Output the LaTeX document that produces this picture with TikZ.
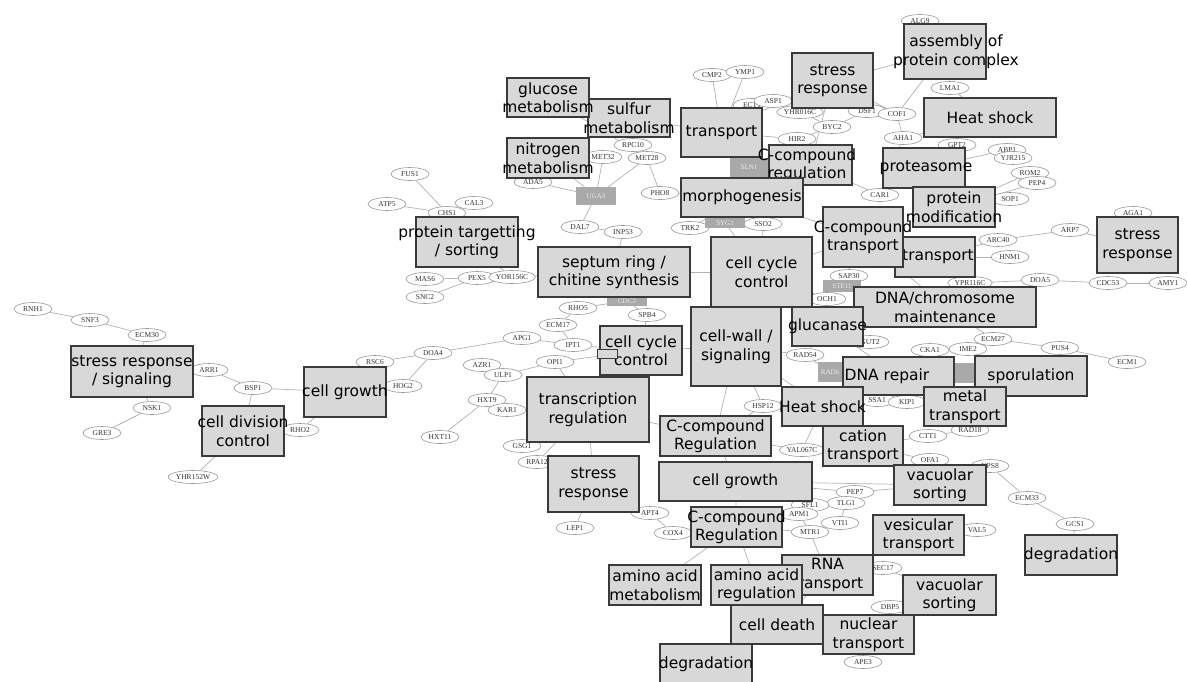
\documentclass[tikz,border=0pt]{standalone}
\usepackage{fontspec}
\usepackage{tikz}
\usetikzlibrary{shapes.geometric}
\newfontfamily\boxfont{DejaVu Sans}
\newfontfamily\genefont{Liberation Serif}
\definecolor{boxfill}{HTML}{D8D8D8}
\definecolor{boxline}{HTML}{3A3A3A}
\definecolor{hubfill}{HTML}{A9A9A9}
\pgfdeclarelayer{bg}
\pgfsetlayers{bg,main}

\begin{document}
\begin{tikzpicture}[x=1pt, y=-1pt,
        gene/.style={ellipse, draw=gray!80, fill=white, line width=0.6pt, minimum width=38pt, minimum height=13pt, inner sep=0.5pt, font=\genefont\fontsize{7.5}{8}\selectfont, text=gray!40!black},
        hub/.style={rectangle, fill=hubfill, minimum width=40pt, minimum height=18pt, inner sep=0pt, font=\genefont\fontsize{7}{8}\selectfont, text=gray!15},
        catbox/.style={rectangle, draw=boxline, fill=boxfill, line width=1.2pt, inner sep=0pt},
        cattext/.style={align=center, inner sep=0pt, font=\boxfont\fontsize{15.5}{18.5}\selectfont},
        link/.style={draw=gray!60, line width=0.7pt}
    ]
    \useasboundingbox (0,0) rectangle (1187,681);

    % gene nodes
    \foreach \n/\x/\y in {RNH1/33/309, SNF3/90/320, ECM30/147/335, ARR1/209/370, BSP1/253/388,
        RSC6/375/362, DOA4/433/353, HOG2/403/386, RHO2/300/430, NSK1/152/408, GRE3/102/433,
        YHR152W/193/477, HXT11/440/437, HXT9/487/400, KAR1/507/410,
        FUS1/410/174, ATP5/387/204, CAL3/474/203, CHS1/447/213, MAS6/425/279, SNC2/425/297,
        PEX5/477/278, YOR156C/512/277, ADA5/533/182, MET32/603/157, RPC10/633/145, MET28/647/158,
        DAL7/580/227, INP53/623/232, PHO8/660/193,
        CMP2/712/75, YMP1/745/72, ECT1/752/105, ASP1/773/101, YHR016C/800/112, BYC2/832/127,
        HIR2/797/139, DSF1/867/111, COF1/897/114, AHA1/903/138, CAR1/880/195, LMA1/950/88,
        ALG9/920/21, GPT2/957/145, ABP1/1007/150, YJR215/1013/158, ROM2/1030/173, PEP4/1037/183,
        SOP1/1010/199,
        ARC40/998/240, ARP7/1070/230, AGA1/1133/213, HNM1/1010/257, DOA5/1040/280, CDC53/1108/283,
        AMY1/1168/283, YPR116C/970/283,
        TRK2/690/228, SSO2/763/224, OCH1/827/299, SAP30/849/276, GUT2/870/342, RAD54/805/355,
        CKA1/930/350, IME2/968/349, ECM27/993/339, PUS4/1060/348, ECM1/1127/362,
        RHO5/578/308, ECM17/558/325, SPB4/647/315, APG1/522/338, IPT1/573/345, AZR1/482/365,
        OPI1/555/362, ULP1/503/375,
        GSG1/522/446, RPA12/537/462, LEP1/575/528, APT4/650/513, COX4/673/533, HSP12/763/406,
        SSA1/877/400, KIP1/907/402, YAL067C/802/450, PEP7/855/492, TLG1/846/503, SFL1/810/505,
        APM1/799/514, VTI1/840/523, MTR1/810/532, CTT1/928/436, RAD18/970/430, OFA1/930/460,
        VPS8/990/466, ECM33/1027/498, GCS1/1075/524, VAL5/977/530, SEC17/883/568, DBP5/890/607,
        APE3/863/662}
        \node[gene] (\n) at (\x,\y) {\n};

    % grey hub genes
    \node[hub] (UGA3) at (596,196) {UGA3};
    \node[hub, minimum width=38pt, minimum height=19pt] (SLN1) at (749,167.5) {SLN1};
    \node[hub, minimum height=10pt] (SYG1) at (725,223) {SYG1};
    \node[hub, minimum width=38pt, minimum height=12pt] (STE11) at (842,286) {STE11};
    \node[hub, minimum height=9pt] (CDC3) at (627,301) {CDC3};
    \node[hub, minimum width=24pt, minimum height=20pt] (RAD6) at (830,372) {RAD6};
    \node[hub, minimum width=20pt, minimum height=20pt] (HSP) at (965,373) {};

    % category boxes
    \node[catbox, minimum width=122pt, minimum height=51pt] (ssig) at (132,371.5) {};
    \node[cattext] at (ssig) {stress response\\/ signaling};
    \node[catbox, minimum width=82pt, minimum height=50pt] (cdiv) at (243,431) {};
    \node[cattext] at (cdiv) {cell division\\control};
    \node[catbox, minimum width=82pt, minimum height=50pt] (cgrowA) at (345,392) {};
    \node[cattext] at (cgrowA) {cell growth};
    \node[catbox, minimum width=102pt, minimum height=50pt] (ptarget) at (467,242) {};
    \node[cattext] at (ptarget) {protein targetting\\/ sorting};
    \node[catbox, minimum width=82pt, minimum height=38pt] (sulf) at (629,118) {};
    \node[cattext] at (sulf) {sulfur\\metabolism};
    \node[catbox, minimum width=82pt, minimum height=39pt] (gluc) at (548,97.5) {};
    \node[cattext] at (gluc) {glucose\\metabolism};
    \node[catbox, minimum width=82pt, minimum height=40pt] (nitro) at (548,158) {};
    \node[cattext] at (nitro) {nitrogen\\metabolism};
    \node[catbox, minimum width=81pt, minimum height=49pt] (transA) at (721.5,132.5) {};
    \node[cattext] at (transA) {transport};
    \node[catbox, minimum width=83pt, minimum height=40pt] (ccregA) at (810.5,165) {};
    \node[cattext] at (807,165) {C-compound\\regulation};
    \node[catbox, minimum width=81pt, minimum height=55pt] (stressA) at (832.5,80.5) {};
    \node[cattext] at (stressA) {stress\\response};
    \node[catbox, minimum width=82pt, minimum height=55pt] (asm) at (945,51.5) {};
    \node[cattext] at (956,51.5) {assembly of\\protein complex};
    \node[catbox, minimum width=132pt, minimum height=39pt] (heatA) at (990,117.5) {};
    \node[cattext] at (heatA) {Heat shock};
    \node[catbox, minimum width=82pt, minimum height=40pt] (prot) at (924,168) {};
    \node[cattext] at (926,168) {proteasome};
    \node[catbox, minimum width=82pt, minimum height=40pt] (pmod) at (954,207) {};
    \node[cattext] at (pmod) {protein\\modification};
    \node[catbox, minimum width=122pt, minimum height=39pt] (morph) at (742,197.5) {};
    \node[cattext] at (morph) {morphogenesis};
    \node[catbox, minimum width=80pt, minimum height=40pt] (transB) at (935,257) {};
    \node[cattext] at (938,257) {transport};
    \node[catbox, minimum width=80pt, minimum height=60pt] (cctrans) at (863,237) {};
    \node[cattext] at (cctrans) {C-compound\\transport};
    \node[catbox, minimum width=81pt, minimum height=56pt] (stressC) at (1137.5,245) {};
    \node[cattext] at (stressC) {stress\\response};
    \node[catbox, minimum width=152pt, minimum height=50pt] (septum) at (614,272) {};
    \node[cattext] at (septum) {septum ring /\\chitine synthesis};
    \node[catbox, minimum width=101pt, minimum height=70pt] (cccA) at (761.5,272) {};
    \node[cattext] at (cccA) {cell cycle\\control};
    \node[catbox, minimum width=182pt, minimum height=40pt] (dnachr) at (945,307) {};
    \node[cattext] at (dnachr) {DNA/chromosome\\maintenance};
    \node[catbox, minimum width=82pt, minimum height=49pt] (cccB) at (641,350.5) {};
    \node[cattext] at (cccB) {cell cycle\\control};
    \node[catbox, minimum width=90pt, minimum height=79pt] (cwall) at (736,346.5) {};
    \node[cattext] at (cwall) {cell-wall /\\signaling};
    \node[catbox, minimum width=71pt, minimum height=39pt] (glucan) at (827.5,326.5) {};
    \node[cattext] at (glucan) {glucanase};
    \node[catbox, minimum width=111pt, minimum height=38pt] (dnarep) at (898.5,376) {};
    \node[cattext] at (887,376) {DNA repair};
    \node[catbox, minimum width=112pt, minimum height=40pt] (sporul) at (1031,376) {};
    \node[cattext] at (sporul) {sporulation};
    \node[catbox, minimum width=82pt, minimum height=39pt] (metal) at (965,406.5) {};
    \node[cattext] at (metal) {metal\\transport};
    \node[catbox, minimum width=81pt, minimum height=39pt] (heatB) at (822.5,406.5) {};
    \node[cattext] at (heatB) {Heat shock};
    \node[catbox, minimum width=122pt, minimum height=65pt] (transreg) at (588,409.5) {};
    \node[cattext] at (transreg) {transcription\\regulation};
    \node[catbox, minimum width=111pt, minimum height=40pt] (ccregB) at (715.5,436) {};
    \node[cattext] at (ccregB) {C-compound\\Regulation};
    \node[catbox, minimum width=80pt, minimum height=40pt] (cation) at (863,446) {};
    \node[cattext] at (cation) {cation\\transport};
    \node[catbox, minimum width=91pt, minimum height=56pt] (stressB) at (593.5,484) {};
    \node[cattext] at (stressB) {stress\\response};
    \node[catbox, minimum width=153pt, minimum height=39pt] (cgrowB) at (735.5,481.5) {};
    \node[cattext] at (cgrowB) {cell growth};
    \node[catbox, minimum width=92pt, minimum height=40pt] (vacA) at (940,485) {};
    \node[cattext] at (vacA) {vacuolar\\sorting};
    \node[catbox, minimum width=91pt, minimum height=40pt] (ccregC) at (736.5,527) {};
    \node[cattext] at (ccregC) {C-compound\\Regulation};
    \node[catbox, minimum width=91pt, minimum height=40pt] (vesic) at (918.5,535) {};
    \node[cattext] at (vesic) {vesicular\\transport};
    \node[catbox, minimum width=92pt, minimum height=40pt] (degA) at (1071,555) {};
    \node[cattext] at (degA) {degradation};
    \node[catbox, minimum width=93pt, minimum height=40pt] (vacB) at (949.5,595) {};
    \node[cattext] at (vacB) {vacuolar\\sorting};
    \node[catbox, minimum width=91pt, minimum height=40pt] (rnatr) at (827.5,575) {};
    \node[cattext] at (rnatr) {RNA\\transport};
    \node[catbox, minimum width=92pt, minimum height=40pt] (aametab) at (655,585) {};
    \node[cattext] at (aametab) {amino acid\\metabolism};
    \node[catbox, minimum width=91pt, minimum height=40pt] (aareg) at (756.5,585) {};
    \node[cattext] at (aareg) {amino acid\\regulation};
    \node[catbox, minimum width=92pt, minimum height=39pt] (cdeath) at (777,624.5) {};
    \node[cattext] at (cdeath) {cell death};
    \node[catbox, minimum width=91pt, minimum height=39pt] (nuctr) at (868.5,634.5) {};
    \node[cattext] at (nuctr) {nuclear\\transport};
    \node[catbox, minimum width=92pt, minimum height=40pt] (degB) at (706,664) {};
    \node[cattext] at (degB) {degradation};
    \node[rectangle, draw=boxline, fill=boxfill, line width=1pt, minimum width=20pt, minimum height=9pt, inner sep=0pt] (sq) at (607,353.5) {};

    % interaction edges
    \begin{pgfonlayer}{bg}
    \foreach \a/\b in {RNH1/SNF3, SNF3/ECM30, ECM30/ssig, ARR1/ssig, ARR1/BSP1, BSP1/cgrowA,
        BSP1/cdiv, cgrowA/RSC6, RSC6/DOA4, HOG2/DOA4, cgrowA/HOG2, RHO2/cgrowA, RHO2/cdiv,
        NSK1/GRE3, NSK1/ssig, YHR152W/cdiv, DOA4/APG1, HXT11/HXT9, HXT9/KAR1, KAR1/transreg,
        HXT9/ULP1, FUS1/CHS1, ATP5/CHS1, CAL3/CHS1, CHS1/ptarget, MAS6/PEX5, SNC2/PEX5,
        PEX5/YOR156C, YOR156C/septum, ptarget/YOR156C, ADA5/UGA3, nitro/UGA3, MET32/UGA3,
        MET28/UGA3, UGA3/DAL7, gluc/MET28, RPC10/MET28, sulf/RPC10, MET28/PHO8, DAL7/INP53,
        INP53/septum, PHO8/morph, ADA5/nitro, CMP2/YMP1, CMP2/transA, YMP1/transA, ECT1/ASP1,
        ASP1/YHR016C, ECT1/transA, YHR016C/BYC2, BYC2/HIR2, BYC2/DSF1, DSF1/COF1, COF1/stressA,
        COF1/AHA1, COF1/asm, LMA1/asm, LMA1/heatA, ALG9/asm, AHA1/CAR1, CAR1/prot, ccregA/CAR1,
        GPT2/prot, ABP1/prot, YJR215/ABP1, ROM2/PEP4, PEP4/pmod, ROM2/pmod, SOP1/pmod,
        ARC40/transB, ARC40/ARP7, ARP7/stressC, AGA1/stressC, HNM1/transB, DOA5/CDC53,
        CDC53/AMY1, DOA5/YPR116C, YPR116C/transB, HIR2/ccregA, transA/HIR2, AHA1/heatA,
        stressA/asm, TRK2/SSO2, TRK2/morph, SSO2/cccA, SSO2/morph, OCH1/SAP30, SAP30/STE11,
        STE11/cctrans, OCH1/cccA, GUT2/glucan, RAD54/cwall, RAD54/glucan, RAD54/RAD6,
        CKA1/IME2, IME2/ECM27, ECM27/PUS4, PUS4/ECM1, ECM27/dnachr, CKA1/dnarep, CDC3/septum,
        RHO5/CDC3, RHO5/ECM17, ECM17/IPT1, SPB4/cccB, APG1/IPT1, IPT1/cccB, AZR1/ULP1,
        ULP1/OPI1, OPI1/transreg, OPI1/cccB, SPB4/CDC3, GSG1/transreg, RPA12/stressB,
        RPA12/transreg, LEP1/stressB, transreg/stressB, APT4/COX4, COX4/ccregC, APT4/stressB,
        HSP12/heatB, HSP12/ccregB, HSP12/cwall, SSA1/KIP1, SSA1/heatB, KIP1/metal,
        YAL067C/ccregB, YAL067C/cation, YAL067C/heatB, PEP7/TLG1, TLG1/SFL1, SFL1/APM1,
        APM1/MTR1, VTI1/TLG1, VTI1/MTR1, PEP7/vacA, cgrowB/SFL1, CTT1/RAD18, CTT1/cation,
        OFA1/vacA, OFA1/cation, VPS8/ECM33, ECM33/GCS1, GCS1/degA, VAL5/vesic, SEC17/rnatr,
        SEC17/vacB, DBP5/nuctr, DBP5/vacB, APE3/nuctr, MTR1/rnatr, ccregC/aareg,
        aametab/ccregC, rnatr/cdeath, cgrowB/ccregC, ccregB/cgrowB, transreg/ccregB,
        RAD18/metal, PUS4/sporul, HSP/sporul, cccB/transreg, septum/cccA, morph/cctrans,
        cccA/cctrans, cwall/ccregB, cwall/heatB, glucan/dnarep, morph/ccregA, transA/sulf,
        stressA/ccregA, cctrans/dnachr, cgrowB/vacA, vesic/rnatr, cwall/cccB, heatB/cation,
        cgrowB/PEP7, ccregC/MTR1, aareg/rnatr, SLN1/morph, SYG1/cccA, SSO2/SYG1}
        \draw[link] (\a) -- (\b);
    \end{pgfonlayer}
\end{tikzpicture}
\end{document}
